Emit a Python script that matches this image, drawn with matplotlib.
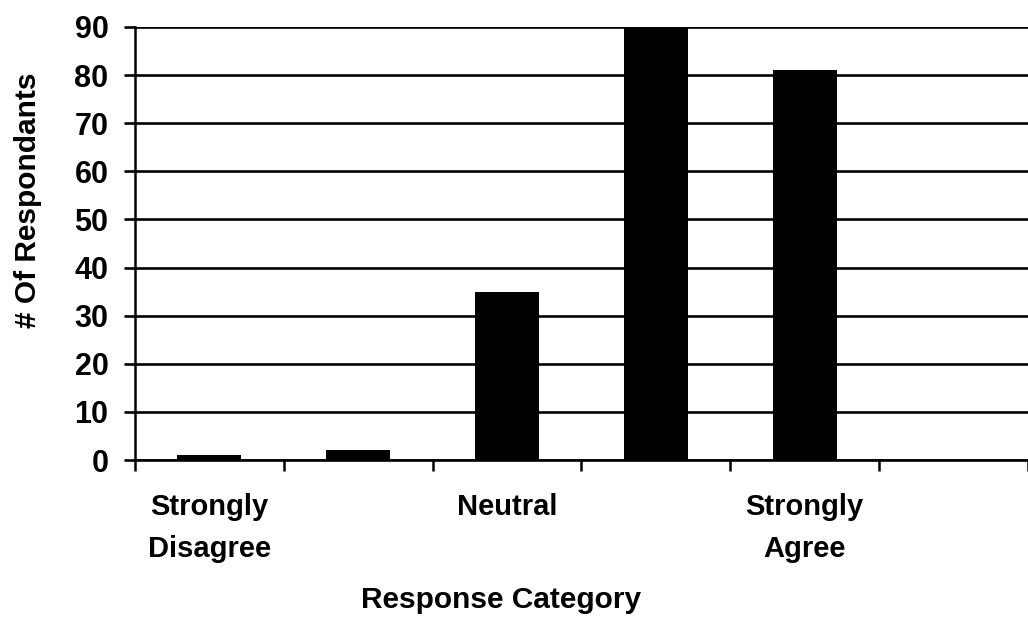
import matplotlib.pyplot as plt
import numpy as np

plt.rcParams['font.family'] = ['Liberation Sans', 'DejaVu Sans']

# data
categories = ["Strongly\nDisagree", "", "Neutral", "", "Strongly\nAgree"]
respondents = [1, 2, 35, 90, 81]
y_ticks = [0, 10, 20, 30, 40, 50, 60, 70, 80, 90]

fig = plt.figure(figsize=(10.28, 6.25), dpi=100)
ax = fig.add_axes([0.1313, 0.264, 0.8687, 0.6928])

x = np.arange(len(categories))
ax.bar(x, respondents, width=0.43, color='black', zorder=3)

ax.set_ylim(0, 90)
ax.set_xlim(-0.5, 5.5)
ax.set_yticks(y_ticks)
ax.yaxis.grid(True, color='black', linewidth=1.9, zorder=1)
ax.set_axisbelow(True)

# labels under the bars, tick marks between categories
ax.set_xticks(x)
ax.set_xticklabels(categories, fontsize=21, fontweight='bold', linespacing=1.6)
ax.tick_params(axis='x', which='major', length=0, pad=24)
ax.set_xticks(np.arange(-0.5, 5.6, 1.0), minor=True)
ax.tick_params(axis='x', which='minor', length=8, width=1.8, direction='out')
ax.tick_params(axis='y', length=8, width=1.9, direction='out', pad=11, labelsize=22)
for lbl in ax.get_yticklabels():
    lbl.set_fontweight('bold')

for s in ['top', 'right']:
    ax.spines[s].set_visible(False)
ax.spines['left'].set_linewidth(1.8)
ax.spines['bottom'].set_linewidth(1.9)

ax.set_ylabel('# Of Respondants', fontsize=21.5, fontweight='bold')
ax.yaxis.set_label_coords(-0.104, 0.60)
ax.set_xlabel('Response Category', fontsize=21.5, fontweight='bold')
ax.xaxis.set_label_coords(0.41, -0.29)

fig.savefig('out.png', dpi=100)
